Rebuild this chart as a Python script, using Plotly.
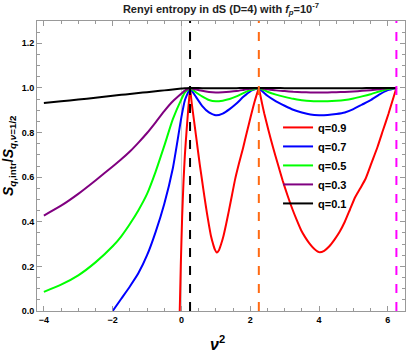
import plotly.graph_objs as go

# nu^2 grid shared by the smooth curves
nu2 = [-4, -3.5, -3, -2.5, -2, -1.75, -1.5, -1.25, -1, -0.75, -0.5, -0.25, 0, 0.1, 0.25,
       0.4, 0.6, 0.8, 1.0, 1.2, 1.4, 1.6, 1.8, 2.0, 2.25,
       2.5, 2.75, 3.0, 3.25, 3.5, 3.75, 4.0, 4.25, 4.5, 4.75, 5.0, 5.25, 5.5, 5.75, 6.0, 6.25]

q01 = [0.932, 0.940, 0.948, 0.956, 0.965, 0.969, 0.973, 0.977, 0.981, 0.985, 0.989, 0.993, 0.997, 0.999, 1.0,
       1.0, 0.999, 0.999, 0.999, 0.999, 0.999, 0.999, 1.0, 1.0, 1.0,
       1.0, 1.0, 0.999, 0.999, 0.999, 0.999, 0.999, 0.999, 0.999, 0.999, 0.999, 0.999, 1.0, 1.0, 1.0, 1.0]
q03 = [0.428, 0.472, 0.525, 0.585, 0.648, 0.680, 0.715, 0.755, 0.798, 0.846, 0.896, 0.940, 0.975, 0.988, 1.0,
       0.994, 0.987, 0.982, 0.980, 0.981, 0.983, 0.986, 0.991, 0.996, 1.0,
       0.994, 0.989, 0.986, 0.983, 0.981, 0.980, 0.980, 0.980, 0.981, 0.982, 0.984, 0.987, 0.990, 0.994, 0.998, 1.0]
q05 = [0.086, 0.118, 0.160, 0.218, 0.290, 0.335, 0.390, 0.452, 0.525, 0.625, 0.740, 0.860, 0.950, 0.980, 1.0,
       0.983, 0.962, 0.946, 0.940, 0.943, 0.950, 0.962, 0.977, 0.990, 1.0,
       0.983, 0.970, 0.960, 0.951, 0.945, 0.941, 0.940, 0.940, 0.942, 0.946, 0.953, 0.962, 0.972, 0.984, 0.995, 1.0]
q07 = [None, None, None, None, 0.0, 0.055, 0.110, 0.170, 0.250, 0.355, 0.480, 0.640, 0.870, 0.945, 1.0,
       0.965, 0.920, 0.890, 0.877, 0.885, 0.905, 0.930, 0.960, 0.985, 1.0,
       0.965, 0.940, 0.920, 0.902, 0.890, 0.881, 0.878, 0.879, 0.883, 0.890, 0.905, 0.925, 0.945, 0.970, 0.990, 1.0]

# q=0.9 has its own, denser grid
nu2_red = [-0.05, -0.02, 0.02, 0.06, 0.1, 0.15, 0.2, 0.25,
           0.3, 0.36, 0.42, 0.47, 0.53, 0.6, 0.67, 0.74, 0.8, 0.86, 0.92, 0.97, 1.03, 1.09, 1.15, 1.22,
           1.3, 1.38, 1.47, 1.56, 1.67, 1.79, 1.9, 2.02, 2.13, 2.25,
           2.33, 2.41, 2.53, 2.66, 2.8, 2.94, 3.08, 3.23, 3.36, 3.48, 3.6, 3.72, 3.85, 4.0, 4.15,
           4.3, 4.45, 4.6, 4.75, 4.9, 5.05, 5.2, 5.36, 5.53, 5.7, 5.86, 6.02, 6.14, 6.25]
q09 = [0.0, 0.2, 0.42, 0.58, 0.70, 0.81, 0.91, 1.0,
       0.93, 0.86, 0.79, 0.73, 0.66, 0.585, 0.51, 0.44, 0.385, 0.335, 0.300, 0.276, 0.262, 0.272, 0.298, 0.335,
       0.39, 0.45, 0.52, 0.59, 0.66, 0.73, 0.80, 0.875, 0.94, 1.0,
       0.94, 0.884, 0.81, 0.735, 0.66, 0.586, 0.52, 0.455, 0.405, 0.362, 0.33, 0.303, 0.28, 0.264, 0.27,
       0.29, 0.32, 0.355, 0.40, 0.455, 0.51, 0.55, 0.595, 0.665, 0.735, 0.81, 0.884, 0.945, 1.0]

# vertical markers at nu = 1/2, 3/2, 5/2
marks = [0.25, 2.25, 6.25]
mark_colors = ["black", "#FF6A13", "#FF00FF"]

series = [("q=0.9", nu2_red, q09, "#FF0000"),
          ("q=0.7", nu2, q07, "#0000FF"),
          ("q=0.5", nu2, q05, "#00FF00"),
          ("q=0.3", nu2, q03, "#800080"),
          ("q=0.1", nu2, q01, "black")]

fig = go.Figure()
for name, xs, ys, col in series:
    # split at the cusps so the spline does not round them off
    pieces = [[], [], []]
    for x, y in zip(xs, ys):
        if x <= marks[0]:
            pieces[0].append((x, y))
        if marks[0] <= x <= marks[1]:
            pieces[1].append((x, y))
        if x >= marks[1]:
            pieces[2].append((x, y))
    for k, p in enumerate(pieces):
        fig.add_trace(go.Scatter(x=[a for a, b in p], y=[b for a, b in p], mode="lines",
                                 name=name, legendgroup=name, showlegend=(k == 0),
                                 line=dict(color=col, width=2, shape="spline", smoothing=0.5)))

# thin axis at x=0
fig.add_shape(type="line", x0=0, x1=0, y0=0, y1=1, xref="x", yref="paper",
              line=dict(color="#cccccc", width=1), layer="below")
for m, c in zip(marks, mark_colors):
    fig.add_shape(type="line", x0=m, x1=m, y0=0, y1=1, xref="x", yref="paper",
                  line=dict(color=c, width=2, dash="dash"))

font = "Liberation Sans Narrow, Arial Narrow, Liberation Sans, Arial"

fig.update_layout(
    width=409, height=354,
    margin=dict(l=37, r=4, t=21, b=43),
    plot_bgcolor="white", paper_bgcolor="white",
    font=dict(family=font, color="black"),
    title=dict(text="<b>Renyi entropy in dS (D=4) with <i>f<sub>p</sub></i>=10<sup>-7</sup></b>",
               x=0.5, xref="paper", xanchor="center", y=0.985, yanchor="top",
               font=dict(size=11, color="#222222")),
    showlegend=True,
    legend=dict(x=0.655, y=0.683, xanchor="left", yanchor="top", bgcolor="rgba(0,0,0,0)",
                itemwidth=30, font=dict(size=11, weight="bold"), tracegroupgap=0),
)

fig.update_xaxes(range=[-4.2, 6.5], tickvals=[-4, -2, 0, 2, 4, 6], showgrid=False, zeroline=False,
                 showline=True, linecolor="#999999", linewidth=1, mirror="allticks",
                 ticks="inside", ticklen=5, tickcolor="#999999",
                 minor=dict(ticks="inside", dtick=0.5, ticklen=3, tickcolor="#999999"),
                 tickfont=dict(size=9, weight="bold"))
fig.update_yaxes(range=[0, 1.3], tickvals=[0, 0.2, 0.4, 0.6, 0.8, 1.0, 1.2], tickformat=".1f",
                 showgrid=False, zeroline=False,
                 showline=True, linecolor="#999999", linewidth=1, mirror="allticks",
                 ticks="inside", ticklen=5, tickcolor="#999999",
                 minor=dict(ticks="inside", dtick=0.05, ticklen=3, tickcolor="#999999"),
                 tickfont=dict(size=9, weight="bold"))

# axis titles
fig.add_annotation(dict(font=dict(color="black", size=14, weight="bold"),
                        x=-0.074, y=0.537, xanchor="center", yanchor="middle", showarrow=False,
                        text="<i>S</i><sub><i>q</i>,intr</sub>/<i>S</i><sub><i>q</i>,<i>ν</i>=1/2</sub>",
                        textangle=-90, xref="paper", yref="paper"))
fig.add_annotation(dict(font=dict(color="black", size=16, weight="bold"),
                        x=0.49, y=-0.11, xanchor="center", yanchor="middle", showarrow=False,
                        text="<i>ν</i><sup>2</sup>", xref="paper", yref="paper"))

# drop the default page margin so the figure sits at the window corner
fig.write_html("out.html", config={"displayModeBar": False},
               post_script="document.body.style.margin='0px';")
